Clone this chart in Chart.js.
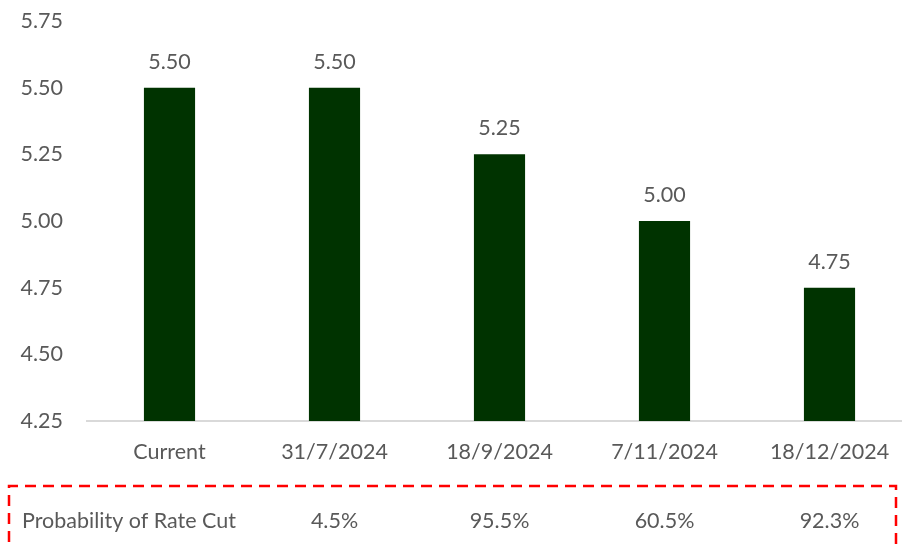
<!DOCTYPE html>
<html>
<head>
<meta charset="utf-8">
<script src="https://cdn.jsdelivr.net/npm/chart.js@4"></script>
<style>
  html, body { margin: 0; padding: 0; background: #fff; overflow: hidden; }
  #wrap { width: 930px; height: 544px; }
</style>
</head>
<body>
<div id="wrap"><canvas id="rateChart" width="930" height="544"></canvas></div>
<script>
var categories = ['Current', '31/7/2024', '18/9/2024', '7/11/2024', '18/12/2024'];
var rates = [5.50, 5.50, 5.25, 5.00, 4.75];
var cutProbability = ['', '4.5%', '95.5%', '60.5%', '92.3%'];
var tableTitle = 'Probability of Rate Cut';

var FONT = 'Lato, "Open Sans", sans-serif';
var TEXT = '#595959';
var SIZE = 21.5;

// value labels above the bars
var barLabels = {
    id: 'barLabels',
    afterDatasetsDraw: function(chart) {
        var ctx = chart.ctx;
        var meta = chart.getDatasetMeta(0);
        ctx.save();
        ctx.font = SIZE + 'px ' + FONT;
        ctx.fillStyle = TEXT;
        ctx.textAlign = 'center';
        ctx.textBaseline = 'middle';
        meta.data.forEach(function(bar, i) {
            ctx.fillText(rates[i].toFixed(2), bar.x, bar.y - 26);
        });
        ctx.restore();
    }
};

// probability row with red dashed frame
var probTable = {
    id: 'probTable',
    afterDraw: function(chart) {
        var ctx = chart.ctx;
        var xs = chart.scales.x;
        ctx.save();
        ctx.strokeStyle = '#ff0000';
        ctx.lineWidth = 2.5;
        ctx.setLineDash([11, 7]);
        ctx.beginPath();
        ctx.moveTo(9, 560);
        ctx.lineTo(9, 486);
        ctx.lineTo(896, 486);
        ctx.lineTo(896, 560);
        ctx.stroke();
        ctx.setLineDash([]);

        ctx.font = SIZE + 'px ' + FONT;
        ctx.fillStyle = TEXT;
        ctx.textBaseline = 'middle';
        ctx.textAlign = 'left';
        ctx.fillText(tableTitle, 22, 521);
        ctx.textAlign = 'center';
        cutProbability.forEach(function(p, i) {
            if (p) ctx.fillText(p, xs.getPixelForValue(i), 521);
        });
        ctx.restore();
    }
};

var ctx = document.getElementById('rateChart').getContext('2d');
var rateChart = new Chart(ctx, {
    type: 'bar',
    data: {
        labels: categories,
        datasets: [{
            label: 'Rate',
            data: rates,
            backgroundColor: '#003300',
            barPercentage: 0.31,
            categoryPercentage: 1.0
        }]
    },
    options: {
        responsive: false,
        animation: false,
        layout: { padding: { left: 0, right: 18, top: 21, bottom: 0 } },
        scales: {
            x: {
                grid: { display: false, drawTicks: false },
                border: { color: '#d9d9d9', width: 2 },
                ticks: { color: TEXT, font: { family: FONT, size: SIZE }, padding: 18 },
                afterFit: function(scale) { scale.height = 123; }
            },
            y: {
                min: 4.25,
                max: 5.75,
                grid: { display: false, drawTicks: false },
                border: { display: false },
                ticks: {
                    stepSize: 0.25,
                    color: TEXT,
                    font: { family: FONT, size: SIZE },
                    padding: 24,
                    callback: function(v) { return Number(v).toFixed(2); }
                },
                afterFit: function(scale) {
                    scale.width = 87;
                    scale.paddingTop = 0;
                    scale.paddingBottom = 0;
                }
            }
        },
        plugins: {
            legend: { display: false },
            tooltip: { enabled: false }
        }
    },
    plugins: [barLabels, probTable]
});
</script>
</body>
</html>
